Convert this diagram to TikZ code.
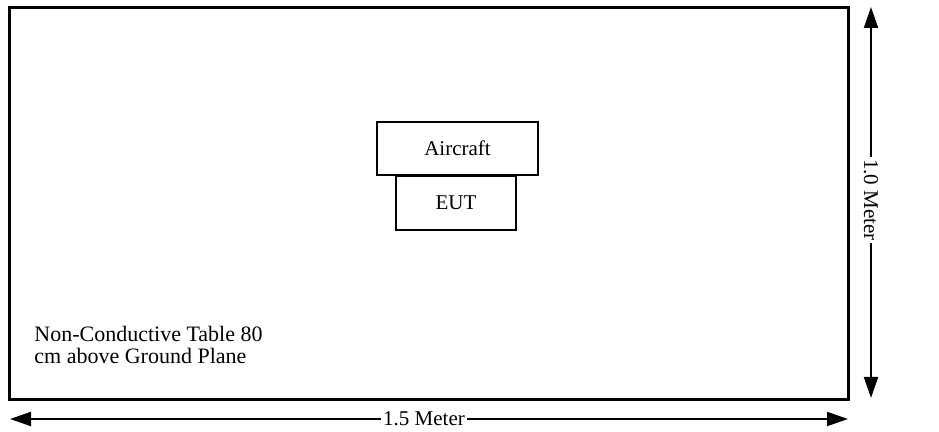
\documentclass[tikz,border=0pt]{standalone}
\usepackage{fontspec}
\setmainfont{Liberation Serif}
\usetikzlibrary{arrows.meta}
\begin{document}
\begin{tikzpicture}[x=0.5pt,y=-0.5pt,
  table/.style={draw=black,line width=1.5pt},
  box/.style={draw=black,line width=0.75pt,minimum width=#1,inner sep=0pt,minimum height=26.5pt,font=\fontsize{10.5}{11}\selectfont},
  dimline/.style={draw=black,line width=1pt,-{Triangle[length=10.5pt,width=7pt]}},
  dimlabel/.style={inner sep=1pt,font=\fontsize{10.5}{11}\selectfont},
  note/.style={anchor=north west,inner sep=0pt,align=left,font=\fontsize{11}{11}\selectfont}]
\useasboundingbox (0,0) rectangle (939,432);
\draw[table] (9,8) rectangle (848,400);
\node[box=80.5pt] (aircraft) at (457.5,148.5) {Aircraft};
\node[box=60pt,minimum height=27pt] (eut) at (456,203) {EUT};
\node[note] (tablenote) at (34,326) {Non-Conductive Table 80\\cm above Ground Plane};
% horizontal dimension
\coordinate (hl) at (10,419);
\coordinate (hr) at (848,419);
\node[dimlabel] (wlab) at (424,419) {1.5 Meter};
\draw[dimline] (wlab.west) -- (hl);
\draw[dimline] (wlab.east) -- (hr);
% vertical dimension
\coordinate (vt) at (871,7);
\coordinate (vb) at (871,398);
\node[dimlabel,rotate=-90] (hlab) at (871,200) {1.0 Meter};
\draw[dimline] (hlab.west) -- (vt);
\draw[dimline] (hlab.east) -- (vb);
\end{tikzpicture}
\end{document}
